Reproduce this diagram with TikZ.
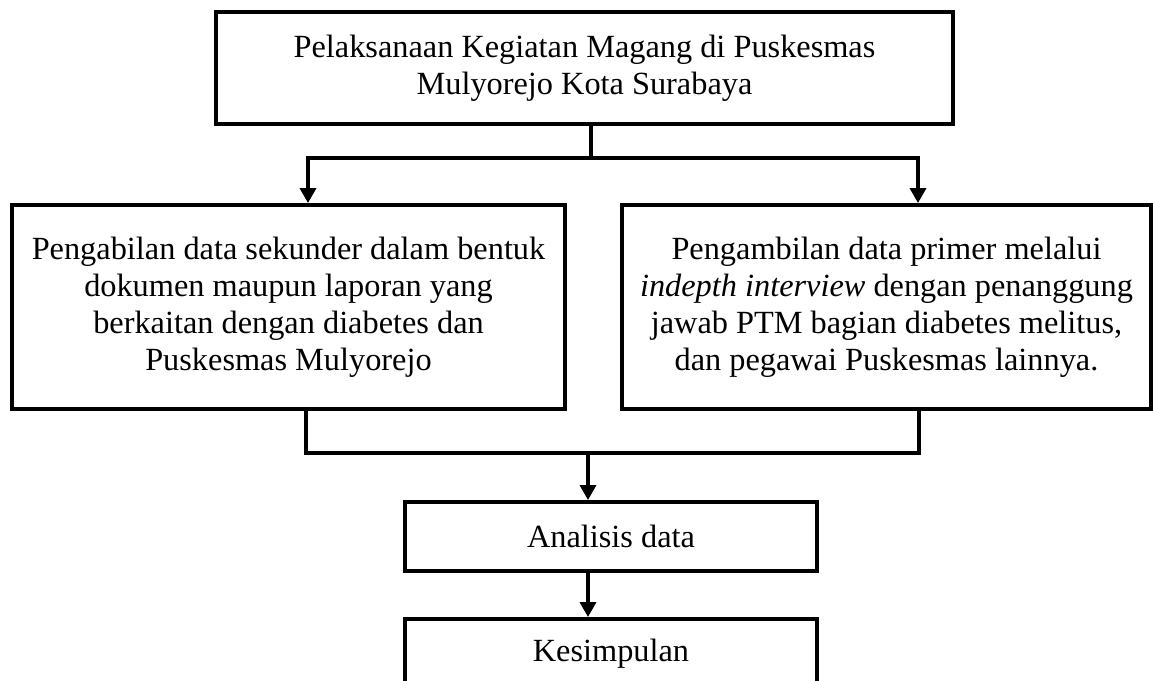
\documentclass[tikz,border=0pt]{standalone}
\usepackage{fontspec}
\setmainfont{Liberation Serif}
\usetikzlibrary{arrows.meta,positioning,calc}

\begin{document}
\begin{tikzpicture}[
  x=0.02cm, y=-0.02cm,
  box/.style={draw, line width=2.2pt, rectangle, align=center, inner sep=0pt,
    font=\fontsize{18.4}{21}\selectfont},
  link/.style={line width=2.2pt},
  flow/.style={link, -{Triangle[width=9pt,length=8.5pt]}}
]
\useasboundingbox (0,0) rectangle (1153,680);

\node[box, minimum width=14.74cm, minimum height=2.24cm] (top) at (584.5,68)
  {Pelaksanaan Kegiatan Magang di Puskesmas\\ Mulyorejo Kota Surabaya};
\node[box, minimum width=11.06cm, minimum height=4.08cm] (sek) at (288.5,307)
  {Pengabilan data sekunder dalam bentuk\\ dokumen maupun laporan yang\\
   berkaitan dengan diabetes dan\\ Puskesmas Mulyorejo};
\node[box, minimum width=10.58cm, minimum height=4.08cm] (prim) at (886.5,307)
  {Pengambilan data primer melalui\\ \textit{indepth interview} dengan penanggung\\
   jawab PTM bagian diabetes melitus,\\ dan pegawai Puskesmas lainnya.};
\node[box, minimum width=8.24cm, minimum height=1.38cm] (anl) at (611,536.5)
  {Analisis data};
\node[box, minimum width=8.24cm, minimum height=1.38cm] (kes) at (611,653.5)
  {Kesimpulan};

\coordinate (split) at (591,158);
\coordinate (join) at (588,453);

% cabang atas
\draw[link] (top.south -| split) -- (split);
\draw[flow] (split) -| ([xshift=0.39cm]sek.north);
\draw[flow] (split) -| ([xshift=0.63cm]prim.north);

% gabung bawah
\draw[link] ([xshift=0.35cm]sek.south) |- (join);
\draw[link] ([xshift=0.65cm]prim.south) |- (join);
\draw[flow] (join) -- (anl.north -| join);
\draw[flow] (anl.south -| join) -- (kes.north -| join);
\end{tikzpicture}
\end{document}
